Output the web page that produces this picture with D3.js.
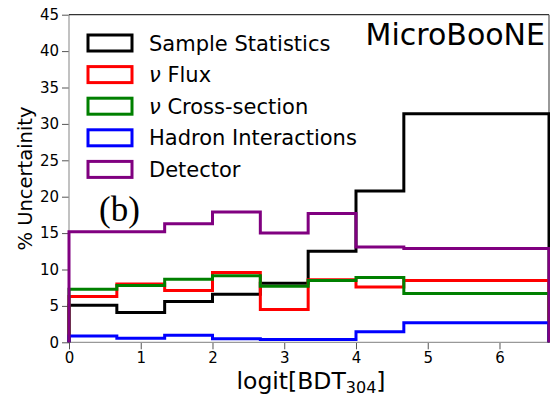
<!DOCTYPE html>
<html><head><meta charset="utf-8">
<script src="https://cdn.jsdelivr.net/npm/d3@7"></script>
<style>
html,body{margin:0;padding:0;background:#fff;}
svg{display:block;font-family:"DejaVu Sans",sans-serif;}
</style></head>
<body>
<svg id="chart" width="550" height="398"></svg>
<script>
const binEdges = [0, 2/3, 4/3, 2, 8/3, 10/3, 4, 14/3, 6.69];
const seriesNames = ["Sample Statistics", "\u03bd Flux", "\u03bd Cross-section", "Hadron Interactions", "Detector"];
const seriesColors = ["#000000", "#ff0000", "#008000", "#0000ff", "#800080"];
const sampleStats = [5.1, 4.1, 5.6, 6.6, 8.1, 12.5, 20.8, 31.4];
const nuFlux = [6.3, 8.0, 7.1, 9.6, 4.5, 8.6, 7.6, 8.5];
const nuXsec = [7.3, 7.8, 8.65, 9.15, 7.7, 8.5, 8.9, 6.7];
const hadron = [0.87, 0.55, 0.96, 0.5, 0.4, 0.4, 1.46, 2.7];
const detector = [15.2, 15.2, 16.3, 17.9, 15.0, 17.7, 13.1, 12.9];
const seriesValues = [sampleStats, nuFlux, nuXsec, hadron, detector];
const xTicks = [0, 1, 2, 3, 4, 5, 6];
const yTicks = [0, 5, 10, 15, 20, 25, 30, 35, 40, 45];

const svg = d3.select("#chart");
const L = 69, R = 549, T = 14.7, B = 342.3;
const x = d3.scaleLinear().domain([0, 6.69]).range([L, R]);
const y = d3.scaleLinear().domain([0, 45]).range([B, T]);

// axes
const xAxis = d3.axisBottom(x).tickValues(xTicks).tickSize(7).tickPadding(3).tickFormat(d3.format("d"));
const yAxis = d3.axisLeft(y).tickValues(yTicks).tickSize(7).tickPadding(3).tickFormat(d3.format("d"));
const gx = svg.append("g").attr("transform", `translate(0,${B})`).call(xAxis);
const gy = svg.append("g").attr("transform", `translate(${L},0)`).call(yAxis);
[gx, gy].forEach(g => {
  g.select(".domain").remove();
  g.selectAll(".tick line").attr("stroke", "#555").attr("stroke-width", 1);
  g.selectAll(".tick text").attr("fill", "#000").style("font-size", "15px").style("font-family", "DejaVu Sans");
});

// frame
svg.append("line").attr("x1", L).attr("x2", L).attr("y1", T).attr("y2", B).attr("stroke", "#999").attr("stroke-width", 1.2);
svg.append("line").attr("x1", L).attr("x2", R).attr("y1", B).attr("y2", B).attr("stroke", "#999").attr("stroke-width", 1.2);
svg.append("line").attr("x1", L).attr("x2", R).attr("y1", T).attr("y2", T).attr("stroke", "#333").attr("stroke-width", 1.2);
svg.append("line").attr("x1", R).attr("x2", R).attr("y1", T).attr("y2", B).attr("stroke", "#555").attr("stroke-width", 1.2);

// step histograms
const line = d3.line().x(d => x(d[0])).y(d => y(d[1]));
seriesValues.forEach((vals, i) => {
  const pts = [[binEdges[0], 0]];
  vals.forEach((v, j) => { pts.push([binEdges[j], v]); pts.push([binEdges[j + 1], v]); });
  pts.push([binEdges[binEdges.length - 1], 0]);
  svg.append("path").attr("d", line(pts)).attr("fill", "none")
    .attr("stroke", seriesColors[i]).attr("stroke-width", 3).attr("stroke-linejoin", "miter");
});

// legend
const lg = svg.append("g");
seriesNames.forEach((name, i) => {
  const cy = 43 + i * 31.6;
  lg.append("rect").attr("x", 88).attr("y", cy - 8).attr("width", 44).attr("height", 16)
    .attr("fill", "none").attr("stroke", seriesColors[i]).attr("stroke-width", 3);
  const t = lg.append("text").attr("x", 149).attr("y", cy).attr("dy", "0.36em")
    .style("font-size", "21px");
  if (name.startsWith("\u03bd")) {
    t.append("tspan").style("font-style", "italic").text("\u03bd");
    t.append("tspan").text(name.slice(1));
  } else {
    t.text(name);
  }
});

// annotations
svg.append("text").attr("x", 545).attr("y", 45).attr("text-anchor", "end")
  .style("font-size", "30px").text("MicroBooNE");
svg.append("text").attr("x", 99).attr("y", 221)
  .style("font-family", "'Liberation Serif', serif").style("font-size", "35px").text("(b)");

// axis labels
svg.append("text").attr("transform", `translate(32,${(T + B) / 2}) rotate(-90)`).attr("text-anchor", "middle")
  .style("font-size", "19.5px").text("% Uncertainity");
const xl = svg.append("text").attr("x", (L + R) / 2 + 2).attr("y", 389).attr("text-anchor", "middle")
  .style("font-size", "23.5px");
xl.append("tspan").text("logit[BDT");
xl.append("tspan").attr("dy", 4).style("font-size", "16px").text("304");
xl.append("tspan").attr("dy", -4).text("]");
</script>
</body></html>
